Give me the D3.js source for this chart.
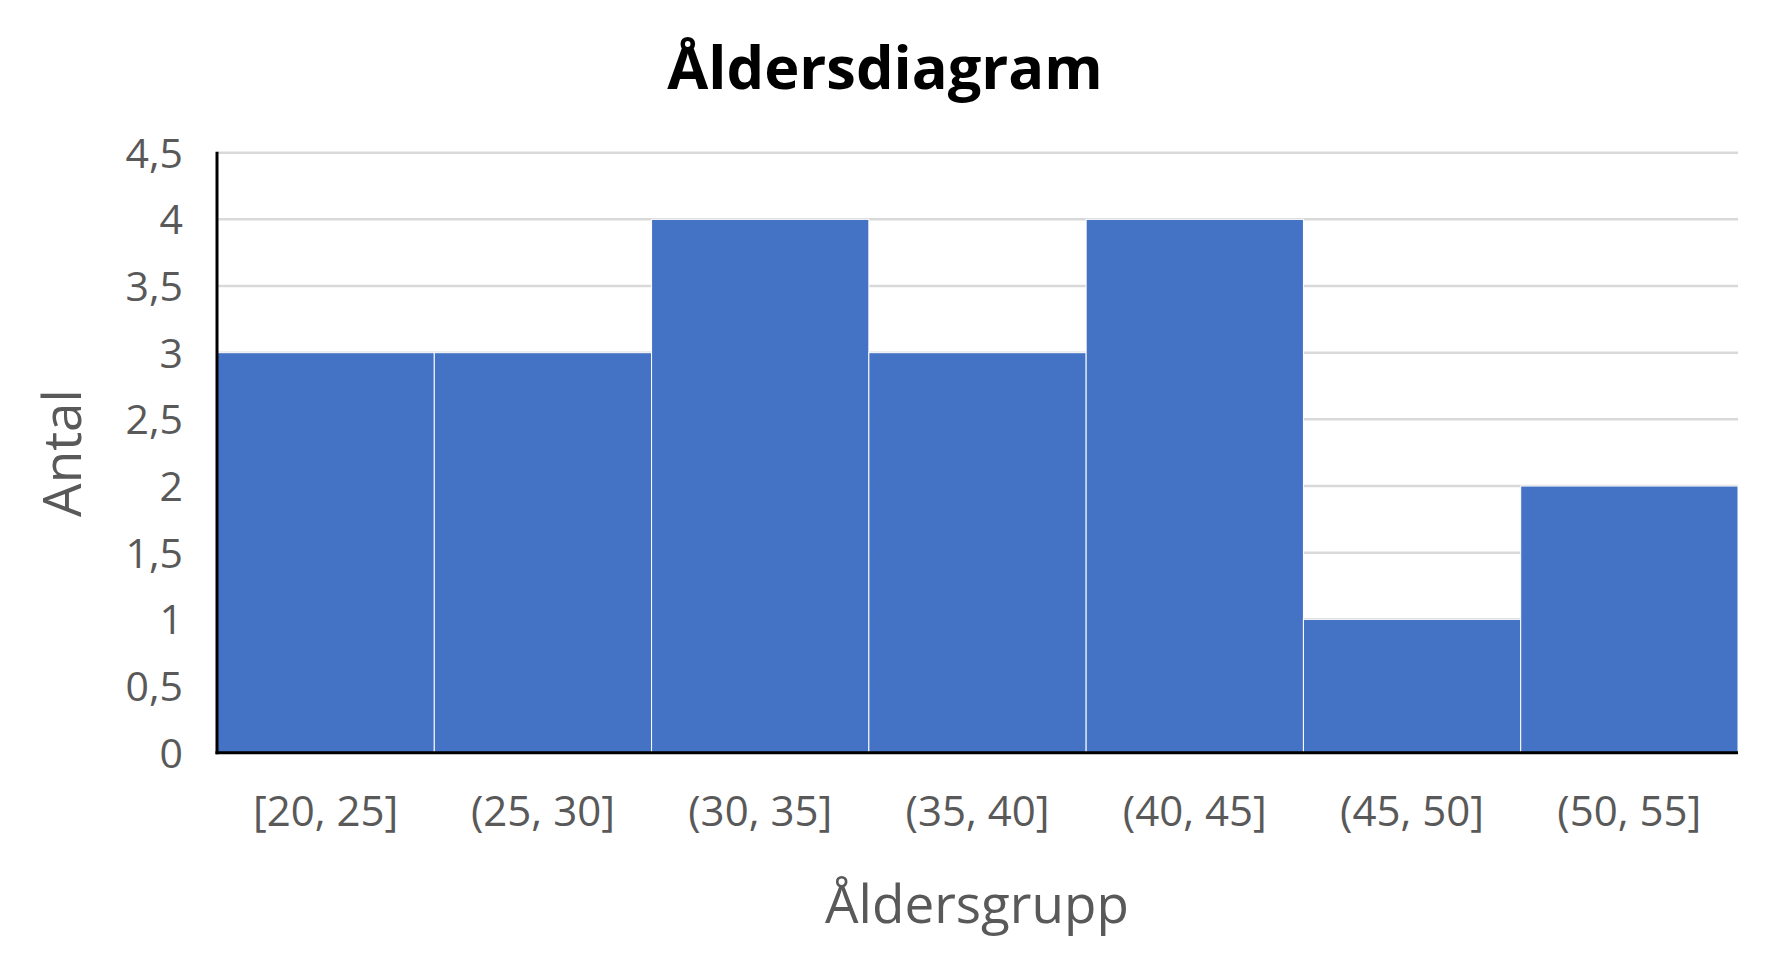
<!DOCTYPE html>
<html>
<head>
<meta charset="utf-8">
<script src="https://cdn.jsdelivr.net/npm/d3@7"></script>
<style>
  html, body { margin: 0; padding: 0; background: #fff; }
  svg { display: block; }
</style>
</head>
<body>
<script>
const title = "Åldersdiagram";
const xTitle = "Åldersgrupp";
const yTitle = "Antal";
const categories = ["[20, 25]", "(25, 30]", "(30, 35]", "(35, 40]", "(40, 45]", "(45, 50]", "(50, 55]"];
const counts = [3, 3, 4, 3, 4, 1, 2];
const yTicks = [0, 0.5, 1, 1.5, 2, 2.5, 3, 3.5, 4, 4.5];

(function () {
const W = 1773, H = 971;
const pL = 217, pR = 1738, pT = 152.7, pB = 752.7;
const font = "'Open Sans', 'Liberation Sans', Arial, sans-serif";

const svg = d3.select("body").append("svg").attr("width", W).attr("height", H);

const x = d3.scaleBand().domain(categories).range([pL, pR]).padding(0);
const y = d3.scaleLinear().domain([0, 4.5]).range([pB, pT]);

// gridlines
svg.append("g").selectAll("line").data(yTicks.filter(d => d > 0)).join("line")
  .attr("x1", pL).attr("x2", pR)
  .attr("y1", d => y(d)).attr("y2", d => y(d))
  .attr("stroke", "#d9d9d9").attr("stroke-width", 2.5);

// bars
svg.append("g").selectAll("rect").data(categories).join("rect")
  .attr("x", d => x(d))
  .attr("y", (d, i) => y(counts[i]))
  .attr("width", x.bandwidth())
  .attr("height", (d, i) => y(0) - y(counts[i]))
  .attr("fill", "#4472C4")
  .attr("stroke", "#ffffff").attr("stroke-width", 1);

// y axis
const yAxis = d3.axisLeft(y).tickValues(yTicks).tickSize(0).tickPadding(34)
  .tickFormat(d => String(d).replace(".", ","));
const gy = svg.append("g").attr("transform", `translate(${pL},0)`).call(yAxis);
gy.select(".domain").remove();
gy.selectAll("text").attr("font-family", font).attr("font-size", 41).attr("fill", "#595959")
  .attr("dy", "0.35em");

// x axis
const xAxis = d3.axisBottom(x).tickSize(0).tickPadding(43);
const gx = svg.append("g").attr("transform", `translate(0,${pB})`).call(xAxis);
gx.select(".domain").remove();
gx.selectAll("text").attr("font-family", font).attr("font-size", 42).attr("fill", "#595959")
  .attr("dy", "0.71em");

// axis lines
svg.append("line").attr("x1", pL).attr("x2", pL).attr("y1", pT - 1).attr("y2", pB + 1.5)
  .attr("stroke", "#000").attr("stroke-width", 3);
svg.append("line").attr("x1", pL - 1.5).attr("x2", pR).attr("y1", pB).attr("y2", pB)
  .attr("stroke", "#000").attr("stroke-width", 3);

// title
svg.append("text").attr("x", 885).attr("y", 89).attr("text-anchor", "middle")
  .attr("font-family", font).attr("font-weight", 700).attr("font-size", 59.5).attr("fill", "#000")
  .text(title);

// x title
svg.append("text").attr("x", 977).attr("y", 923).attr("text-anchor", "middle")
  .attr("font-family", font).attr("font-size", 53).attr("fill", "#595959")
  .text(xTitle);

// y title
svg.append("text").attr("transform", "translate(81,453) rotate(-90)").attr("text-anchor", "middle")
  .attr("font-family", font).attr("font-size", 53).attr("fill", "#595959")
  .text(yTitle);
})();
</script>
</body>
</html>
